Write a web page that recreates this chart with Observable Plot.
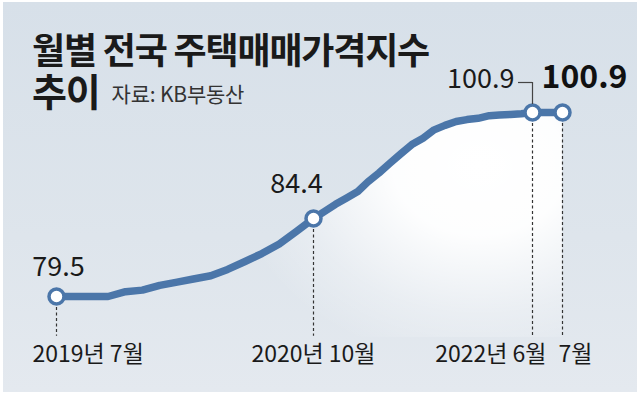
<!DOCTYPE html>
<html>
<head>
<meta charset="utf-8">
<script src="https://cdn.jsdelivr.net/npm/d3@7"></script>
<script src="https://cdn.jsdelivr.net/npm/@observablehq/plot@0.6"></script>
<style>
  html, body { margin: 0; padding: 0; background: #ffffff; }
  #wrap { position: relative; width: 640px; height: 396px; overflow: hidden; }
  #panel { position: absolute; left: 3px; top: 2px; width: 634px; height: 390px;
           background: linear-gradient(180deg, #d7e0e9 0%, #dee5ec 60%, #e4e9ef 100%); }
  #chart { position: absolute; left: 0; top: 0; }
  #title { position: absolute; left: 32px; top: 27px; font-family: "Noto Sans CJK KR", sans-serif;
           color: #1a1a1a; }
  #title .t { font-size: 36px; font-weight: 700; line-height: 42px; letter-spacing: -1.2px; white-space: nowrap; }
  #title .t2 { font-size: 38px; }
  #title .src { font-size: 21px; font-weight: 400; letter-spacing: -0.2px; color: #333; margin-left: 12px; vertical-align: 4px; }
</style>
</head>
<body>
<div id="wrap">
  <div id="panel"></div>
  <div id="chart"></div>
  <div id="title">
    <div class="t">월별 전국 주택매매가격지수</div>
    <div class="t t2">추이<span class="src">자료: KB부동산</span></div>
  </div>
</div>
<script>
// ---- data ----
const months = [
  "2019-07","2019-08","2019-09","2019-10","2019-11","2019-12",
  "2020-01","2020-02","2020-03","2020-04","2020-05","2020-06",
  "2020-07","2020-08","2020-09","2020-10","2020-11","2020-12",
  "2021-01","2021-02","2021-03","2021-04","2021-05","2021-06",
  "2021-07","2021-08","2021-09","2021-10","2021-11","2021-12",
  "2022-01","2022-02","2022-03","2022-04","2022-05","2022-06","2022-07"
];
const values = [
  79.5, 79.5, 79.5, 79.5, 79.8, 79.9,
  80.2, 80.4, 80.6, 80.8, 81.2, 81.7,
  82.2, 82.8, 83.6, 84.4, 85.5, 86.6,
  87.6, 88.6, 90.1, 91.5, 93.0, 94.5,
  95.9, 96.9, 98.2, 98.9, 99.5, 99.8,
  100.0, 100.4, 100.5, 100.6, 100.7, 100.9, 100.9
];
const keyMonths = ["2019-07", "2020-10", "2022-06", "2022-07"];
const keyLabels = ["79.5", "84.4", "100.9", "100.9"];
const axisLabels = ["2019년 7월", "2020년 10월", "2022년 6월", "7월"];

// ---- tables ----
const parse = d3.utcParse("%Y-%m");
const data = months.map((m, i) => ({date: parse(m), value: values[i]}));
const keys = keyMonths.map((m, i) => ({
  date: parse(m),
  value: values[months.indexOf(m)],
  label: keyLabels[i],
  axis: axisLabels[i]
}));

// the infographic's axes are piecewise (stretched between the key points)
const warpX = d3.scaleUtc().domain(keys.map(d => d.date)).range([56, 313, 532, 562]);
const warpY = d3.scaleLinear().domain([79.5, 84.4, 100.9]).range([296, 218, 112]);
const guideBase = 77;   // index level where the dashed guides stop
const areaBase = 70;    // index level used as the glow's floor (clipped)

const blue = "#4b76a9";
const font = "'Noto Sans CJK KR', sans-serif";
const ink = "#1a1a1a";

const plot = Plot.plot({
  width: 640,
  height: 396,
  marginTop: 0, marginRight: 0, marginLeft: 0, marginBottom: 59,
  style: {background: "transparent", overflow: "visible"},
  x: {type: "linear", transform: warpX, domain: [0, 640], range: [0, 640], axis: null},
  y: {type: "linear", transform: warpY, domain: [0, 396], range: [0, 396], axis: null},
  marks: [
    Plot.areaY(data, {x: "date", y1: areaBase, y2: "value", fill: "url(#glow)", clip: true}),
    Plot.ruleX(keys, {x: "date", y1: "value", y2: guideBase, stroke: "#333", strokeWidth: 1.2, strokeDasharray: "3,2.5"}),
    Plot.line(data, {x: "date", y: "value", stroke: blue, strokeWidth: 7.5, strokeLinejoin: "round", strokeLinecap: "round"}),
    Plot.dot(keys, {x: "date", y: "value", r: 7.5, fill: "white", stroke: blue, strokeWidth: 3.5}),
    // leader from the June label to its point
    Plot.ruleX([keys[2]], {x: "date", y1: "value", y2: "value", insetTop: -22, dy: -8, stroke: "#444", strokeWidth: 1.2}),
    Plot.ruleY([keys[2]], {y: "value", x1: "date", x2: "date", insetLeft: -14, dy: -30, stroke: "#444", strokeWidth: 1.2}),
    Plot.text([keys[0]], {x: "date", y: "value", text: "label", dx: 2, dy: -29, fontSize: 27, fill: ink, fontFamily: font}),
    Plot.text([keys[1]], {x: "date", y: "value", text: "label", dx: -17, dy: -34, fontSize: 27, fill: ink, fontFamily: font}),
    Plot.text([keys[2]], {x: "date", y: "value", text: "label", textAnchor: "end", dx: -18, dy: -33, fontSize: 27, fill: ink, fontFamily: font}),
    Plot.text([keys[3]], {x: "date", y: "value", text: "label", textAnchor: "start", dx: -21, dy: -35, fontSize: 32, fontWeight: "bold", fill: "#111", fontFamily: font}),
    Plot.text([keys[0]], {x: "date", text: "axis", frameAnchor: "bottom", textAnchor: "start", dx: -24, dy: 24, fontSize: 23, fill: ink, fontFamily: font}),
    Plot.text([keys[1]], {x: "date", text: "axis", frameAnchor: "bottom", textAnchor: "middle", dy: 24, fontSize: 23, fill: ink, fontFamily: font}),
    Plot.text([keys[2]], {x: "date", text: "axis", frameAnchor: "bottom", textAnchor: "end", dx: 14, dy: 24, fontSize: 23, fill: ink, fontFamily: font}),
    Plot.text([keys[3]], {x: "date", text: "axis", frameAnchor: "bottom", textAnchor: "start", dx: -4, dy: 24, fontSize: 23, fill: ink, fontFamily: font})
  ]
});

d3.select(plot).insert("defs", ":first-child").html(`
  <radialGradient id="glow" gradientUnits="userSpaceOnUse" cx="480" cy="165" r="250"
      gradientTransform="translate(480 165) scale(1 0.8) translate(-480 -165)">
    <stop offset="0" stop-color="#ffffff" stop-opacity="1"/>
    <stop offset="0.35" stop-color="#ffffff" stop-opacity="0.95"/>
    <stop offset="0.75" stop-color="#ffffff" stop-opacity="0.3"/>
    <stop offset="1" stop-color="#ffffff" stop-opacity="0"/>
  </radialGradient>`);

document.getElementById("chart").appendChild(plot);
</script>
</body>
</html>
